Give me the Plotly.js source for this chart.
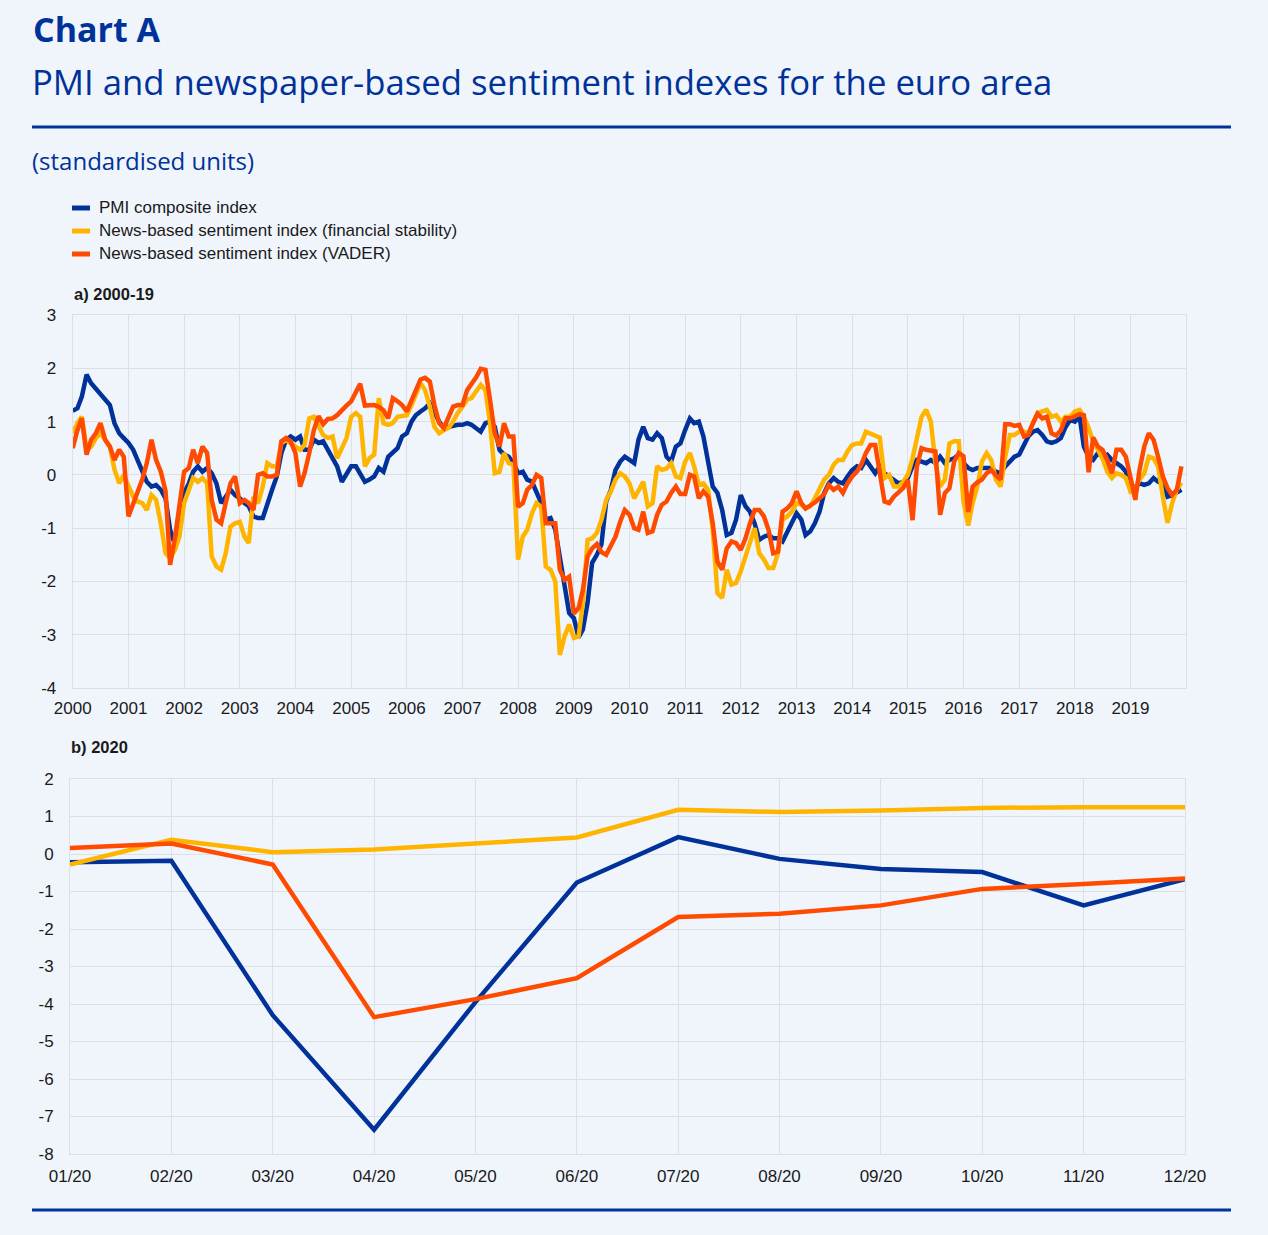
<!DOCTYPE html>
<html>
<head>
<meta charset="utf-8">
<script src="https://cdn.plot.ly/plotly-3.0.1.min.js"></script>
<style>
  html, body { margin: 0; padding: 0; background: #f0f5fc; }
  #chart { width: 1268px; height: 1235px; }
</style>
</head>
<body>
<div id="chart"></div>
<script>
// ---------------- DATA ----------------
const seriesNames = [
  "PMI composite index",
  "News-based sentiment index (financial stability)",
  "News-based sentiment index (VADER)"
];
const seriesColors = ["#003299", "#ffb400", "#ff4b00"];

// Panel a) monthly, Jan 2000 – Dec 2019
const startYear = 2000;
const endYear = 2019;

const pmi2000_19 = [
  1.2, 1.25, 1.47, 1.88, 1.72, 1.62, 1.53, 1.44, 1.31, 0.97, 0.78, 0.69,
  0.6, 0.47, 0.28, 0.03, -0.13, -0.22, -0.19, -0.28, -0.44, -1.03, -1.3, -0.78,
  -0.34, -0.16, 0.06, 0.16, 0.06, 0.13, 0.03, -0.16, -0.53, -0.41, -0.28, -0.38,
  -0.44, -0.53, -0.59, -0.78, -0.81, -0.81, -0.53, -0.28, -0.03, 0.41, 0.66, 0.72,
  0.66, 0.72, 0.47, 0.47, 0.66, 0.6, 0.63, 0.47, 0.28, 0.16, -0.13, 0,
  0.16, 0.16, 0.03, -0.13, -0.09, -0.03, 0.13, 0.06, 0.34, 0.41, 0.5, 0.72,
  0.78, 1.0, 1.12, 1.19, 1.25, 1.34, 1.16, 1.0, 0.88, 0.9, 0.94, 0.94,
  0.94, 0.97, 0.94, 0.88, 0.81, 0.97, 1.0, 0.9, 0.47, 0.38, 0.34, 0.22,
  0.03, 0.06, -0.09, -0.13, -0.34, -0.53, -0.84, -0.81, -1.03, -1.53, -2.16, -2.59,
  -2.69, -3.05, -2.9, -2.4, -1.65, -1.5, -1.3, -0.5, -0.28, 0.09, 0.25, 0.34,
  0.28, 0.22, 0.66, 0.9, 0.69, 0.66, 0.78, 0.69, 0.34, 0.25, 0.53, 0.59,
  0.84, 1.06, 0.97, 1.0, 0.72, 0.28, -0.22, -0.34, -0.66, -1.13, -1.09, -0.84,
  -0.38, -0.59, -0.69, -0.91, -1.22, -1.16, -1.13, -1.19, -1.19, -1.25, -1.06, -0.88,
  -0.72, -0.84, -1.13, -1.06, -0.91, -0.69, -0.34, -0.16, -0.06, -0.13, -0.16, -0.03,
  0.09, 0.16, 0.13, 0.28, 0.16, 0.03, 0.16, 0.03, -0.03, -0.09, -0.16, -0.13,
  -0.06, 0.16, 0.28, 0.25, 0.22, 0.28, 0.22, 0.34, 0.22, 0.28, 0.31, 0.38,
  0.22, 0.13, 0.09, 0.13, 0.13, 0.13, 0.13, 0.06, 0.03, 0.16, 0.25, 0.34,
  0.38, 0.56, 0.72, 0.81, 0.84, 0.75, 0.63, 0.6, 0.63, 0.69, 0.9, 1.03,
  1.0, 1.09, 0.53, 0.34, 0.28, 0.41, 0.34, 0.38, 0.28, 0.22, 0.16, 0.06,
  -0.28, -0.22, -0.16, -0.19, -0.16, -0.06, -0.13, -0.16, -0.41, -0.38, -0.34, -0.28
];

const finStab2000_19 = [
  0.78, 0.97, 1.09, 0.47, 0.53, 0.69, 0.78, 0.66, 0.53, 0.1, -0.16, 0.0,
  -0.22, -0.41, -0.5, -0.53, -0.66, -0.38, -0.47, -0.91, -1.47, -1.56, -1.41, -1.16,
  -0.53, -0.28, -0.06, -0.13, -0.06, -0.16, -1.53, -1.72, -1.78, -1.47, -0.97, -0.91,
  -0.88, -1.16, -1.28, -0.41, -0.53, -0.22, 0.22, 0.16, 0.16, 0.59, 0.66, 0.59,
  0.53, 0.47, 0.56, 1.06, 1.09, 0.9, 0.75, 0.69, 0.72, 0.31, 0.53, 0.69,
  1.09, 1.16, 1.09, 0.16, 0.31, 0.38, 1.44, 0.97, 0.94, 0.97, 1.09, 1.1,
  1.12, 1.31, 1.53, 1.72, 1.59, 1.28, 0.9, 0.78, 0.84, 0.88, 1.0, 1.16,
  1.28, 1.41, 1.44, 1.56, 1.69, 1.59, 0.97, 0.03, 0.06, 0.41, 0.22, 0.19,
  -1.59, -1.16, -1.03, -0.72, -0.53, -0.6, -1.72, -1.78, -2.0, -3.38, -3.03, -2.81,
  -3.06, -3.03, -2.4, -1.22, -1.19, -1.09, -0.84, -0.47, -0.31, -0.09, 0.03, -0.03,
  -0.16, -0.44, -0.28, -0.13, -0.59, -0.53, 0.16, 0.09, 0.12, 0.22, -0.03, -0.06,
  0.25, 0.41, 0.16, -0.19, -0.16, -0.28, -1.03, -2.22, -2.31, -1.78, -2.06, -2.03,
  -1.81, -1.53, -1.22, -1.0, -1.47, -1.59, -1.75, -1.75, -1.47, -0.84, -0.78, -0.69,
  -0.53, -0.56, -0.63, -0.59, -0.44, -0.28, -0.09, 0.0, 0.19, 0.28, 0.28, 0.44,
  0.56, 0.59, 0.59, 0.81, 0.78, 0.75, 0.7, -0.06, 0.0, -0.22, -0.22, -0.13,
  0.0, 0.31, 0.66, 1.09, 1.22, 1.0, 0.22, -0.22, -0.09, 0.59, 0.63, 0.63,
  -0.5, -0.95, -0.53, -0.22, 0.25, 0.41, 0.28, -0.09, -0.22, 0.34, 0.75, 0.75,
  0.81, 0.81, 0.78, 1.0, 1.16, 1.19, 1.22, 1.09, 1.12, 1.0, 1.09, 1.09,
  1.19, 1.22, 1.09, 0.88, 0.63, 0.47, 0.31, 0.06, -0.06, 0.03, 0.0, -0.06,
  -0.31, -0.25, -0.09, 0.03, 0.34, 0.31, 0.16, -0.41, -0.9, -0.53, -0.28, -0.15
];

const vader2000_19 = [
  0.5, 0.84, 1.06, 0.38, 0.66, 0.78, 0.97, 0.66, 0.53, 0.28, 0.47, 0.34,
  -0.78, -0.53, -0.34, -0.09, 0.22, 0.66, 0.28, 0.06, -0.3, -1.69, -1.2, -0.53,
  0.06, 0.13, 0.47, 0.22, 0.53, 0.41, -0.47, -0.84, -0.91, -0.53, -0.16, -0.03,
  -0.53, -0.47, -0.53, -0.66, 0.0, 0.03, -0.03, -0.03, 0.0, 0.63, 0.69, 0.63,
  0.41, -0.22, 0.03, 0.41, 0.84, 1.1, 0.95, 1.05, 1.06, 1.12, 1.22, 1.3,
  1.38, 1.56, 1.71, 1.3, 1.31, 1.31, 1.28, 1.21, 1.06, 1.44, 1.38, 1.31,
  1.19, 1.38, 1.59, 1.79, 1.82, 1.75, 1.31, 0.97, 0.88, 1.09, 1.28, 1.31,
  1.31, 1.59, 1.69, 1.83, 1.99, 1.97, 1.41, 0.78, 0.53, 0.97, 0.72, 0.72,
  -0.6, -0.53, -0.28, -0.19, 0.0, -0.06, -0.91, -0.91, -0.91, -1.78, -1.97, -1.91,
  -2.6, -2.5, -2.16, -1.53, -1.38, -1.3, -1.45, -1.5, -1.31, -1.16, -0.88, -0.66,
  -0.75, -1.0, -1.03, -0.69, -1.09, -1.06, -0.75, -0.56, -0.5, -0.34, -0.22, -0.36,
  -0.36, 0.0, -0.03, -0.44, -0.31, -0.41, -0.91, -1.63, -1.78, -1.38, -1.25, -1.28,
  -1.41, -1.19, -0.91, -0.66, -0.66, -0.78, -1.03, -1.47, -1.44, -0.69, -0.63, -0.53,
  -0.31, -0.53, -0.63, -0.58, -0.52, -0.44, -0.36, -0.19, -0.28, -0.22, -0.34, -0.16,
  -0.03, 0.06, 0.19, 0.41, 0.56, 0.56, 0.06, -0.5, -0.53, -0.41, -0.33, -0.25,
  -0.1, -0.85, 0.15, 0.5, 0.47, 0.45, 0.44, -0.75, -0.34, -0.25, 0.25, 0.41,
  0.35, -0.7, -0.22, -0.14, -0.09, 0.03, 0.09, -0.01, -0.09, 0.95, 0.95, 0.92,
  0.94, 0.72, 0.75, 0.97, 1.15, 1.06, 1.09, 0.78, 0.74, 0.84, 1.06, 1.06,
  1.09, 1.14, 1.12, 0.05, 0.7, 0.53, 0.47, 0.28, 0.03, 0.47, 0.47, 0.34,
  -0.05, -0.47, 0.09, 0.53, 0.78, 0.66, 0.34, -0.03, -0.25, -0.38, -0.28, 0.16
];

// Panel b) 2020 monthly
const months2020 = ["01/20","02/20","03/20","04/20","05/20","06/20","07/20","08/20","09/20","10/20","11/20","12/20"];
const pmi2020     = [-0.22, -0.18, -4.3, -7.35, -3.95, -0.76, 0.45, -0.13, -0.4, -0.48, -1.37, -0.67];
const finStab2020 = [-0.28, 0.38, 0.05, 0.12, 0.28, 0.44, 1.18, 1.12, 1.16, 1.23, 1.25, 1.25];
const vader2020   = [0.16, 0.28, -0.28, -4.35, -3.87, -3.31, -1.68, -1.59, -1.37, -0.93, -0.8, -0.65];

// Tick labels
const yTicksA = [-4, -3, -2, -1, 0, 1, 2, 3];
const yTicksB = [-8, -7, -6, -5, -4, -3, -2, -1, 0, 1, 2];

// ---------------- BUILD ----------------
const monthDates = [];
for (let y = startYear; y <= endYear; y++) {
  for (let m = 1; m <= 12; m++) monthDates.push(y + "-" + String(m).padStart(2, "0") + "-01");
}
const yearTickVals = [], yearTickText = [];
for (let y = startYear; y <= endYear; y++) { yearTickVals.push(y + "-01-01"); yearTickText.push(String(y)); }

const W = 1268, H = 1235;
const px = x => x / W;
const py = y => 1 - y / H;

const BG = "#f0f5fc";
const GRID = "#dcdfe4";
const BLUE = "#003299";
const TICKFONT = { family: "Liberation Sans, Arial, sans-serif", size: 17, color: "#1a1a1a" };
const LW = 4.5;

const seriesA = [pmi2000_19, finStab2000_19, vader2000_19];
const seriesB = [pmi2020, finStab2020, vader2020];

const traces = [];
seriesA.forEach((vals, i) => traces.push({
  x: monthDates, y: vals, type: "scatter", mode: "lines", name: seriesNames[i],
  line: { color: seriesColors[i], width: LW }, xaxis: "x", yaxis: "y", showlegend: false
}));
seriesB.forEach((vals, i) => traces.push({
  x: months2020, y: vals, type: "scatter", mode: "lines", name: seriesNames[i],
  line: { color: seriesColors[i], width: LW }, xaxis: "x2", yaxis: "y2", showlegend: false
}));

const axCommon = {
  showgrid: true, gridcolor: GRID, gridwidth: 1,
  showline: true, linecolor: GRID, linewidth: 1, mirror: true,
  zeroline: false, ticks: "", tickfont: TICKFONT, fixedrange: true
};

const shapes = [
  { type: "line", xref: "paper", yref: "paper", x0: px(32), x1: px(1231), y0: py(127), y1: py(127), line: { color: BLUE, width: 3 } },
  { type: "line", xref: "paper", yref: "paper", x0: px(32), x1: px(1231), y0: py(1210), y1: py(1210), line: { color: BLUE, width: 3 } }
];
const annotations = [
  { text: "Chart A", x: px(31), y: py(29), xref: "paper", yref: "paper", xanchor: "left", yanchor: "middle", showarrow: false,
    font: { family: "Open Sans, sans-serif", size: 34, color: BLUE, weight: 700 } },
  { text: "PMI and newspaper-based sentiment indexes for the euro area", x: px(30), y: py(81), xref: "paper", yref: "paper",
    xanchor: "left", yanchor: "middle", showarrow: false, font: { family: "Open Sans, sans-serif", size: 34.7, color: BLUE } },
  { text: "(standardised units)", x: px(30), y: py(160), xref: "paper", yref: "paper",
    xanchor: "left", yanchor: "middle", showarrow: false, font: { family: "Open Sans, sans-serif", size: 24, color: BLUE } },
  { text: "a) 2000-19", x: px(72), y: py(294), xref: "paper", yref: "paper", xanchor: "left", yanchor: "middle", showarrow: false,
    font: { family: "Liberation Sans, Arial, sans-serif", size: 16.5, color: "#1a1a1a", weight: 700 } },
  { text: "b) 2020", x: px(69), y: py(747), xref: "paper", yref: "paper", xanchor: "left", yanchor: "middle", showarrow: false,
    font: { family: "Liberation Sans, Arial, sans-serif", size: 16.5, color: "#1a1a1a", weight: 700 } }
];
seriesNames.forEach((nm, i) => {
  const yy = 208 + 23 * i;
  shapes.push({ type: "line", xref: "paper", yref: "paper", x0: px(72), x1: px(90), y0: py(yy), y1: py(yy),
    line: { color: seriesColors[i], width: 5 } });
  annotations.push({ text: nm, x: px(97), y: py(yy), xref: "paper", yref: "paper", xanchor: "left", yanchor: "middle",
    showarrow: false, font: { family: "Liberation Sans, Arial, sans-serif", size: 17, color: "#1a1a1a" } });
});

const layout = {
  width: W, height: H,
  margin: { l: 0, r: 0, t: 0, b: 0, pad: 0 },
  paper_bgcolor: BG, plot_bgcolor: BG,
  showlegend: false,
  xaxis: Object.assign({}, axCommon, {
    domain: [px(72.7), px(1186)], anchor: "y", type: "date",
    range: ["2000-01-01", "2019-12-31"], tickvals: yearTickVals, ticktext: yearTickText,
    ticklabelstandoff: 5
  }),
  yaxis: Object.assign({}, axCommon, {
    domain: [py(688), py(315)], anchor: "x", range: [-4, 3],
    tickvals: yTicksA, ticktext: yTicksA.map(String), ticklabelstandoff: 12
  }),
  xaxis2: Object.assign({}, axCommon, {
    domain: [px(70), px(1185)], anchor: "y2", type: "category", range: [0, 11],
    ticklabelstandoff: 7
  }),
  yaxis2: Object.assign({}, axCommon, {
    domain: [py(1154), py(779)], anchor: "x2", range: [-8, 2],
    tickvals: yTicksB, ticktext: yTicksB.map(String), ticklabelstandoff: 12
  }),
  shapes: shapes,
  annotations: annotations
};

Plotly.newPlot("chart", traces, layout, { displayModeBar: false, staticPlot: true });
</script>
</body>
</html>
